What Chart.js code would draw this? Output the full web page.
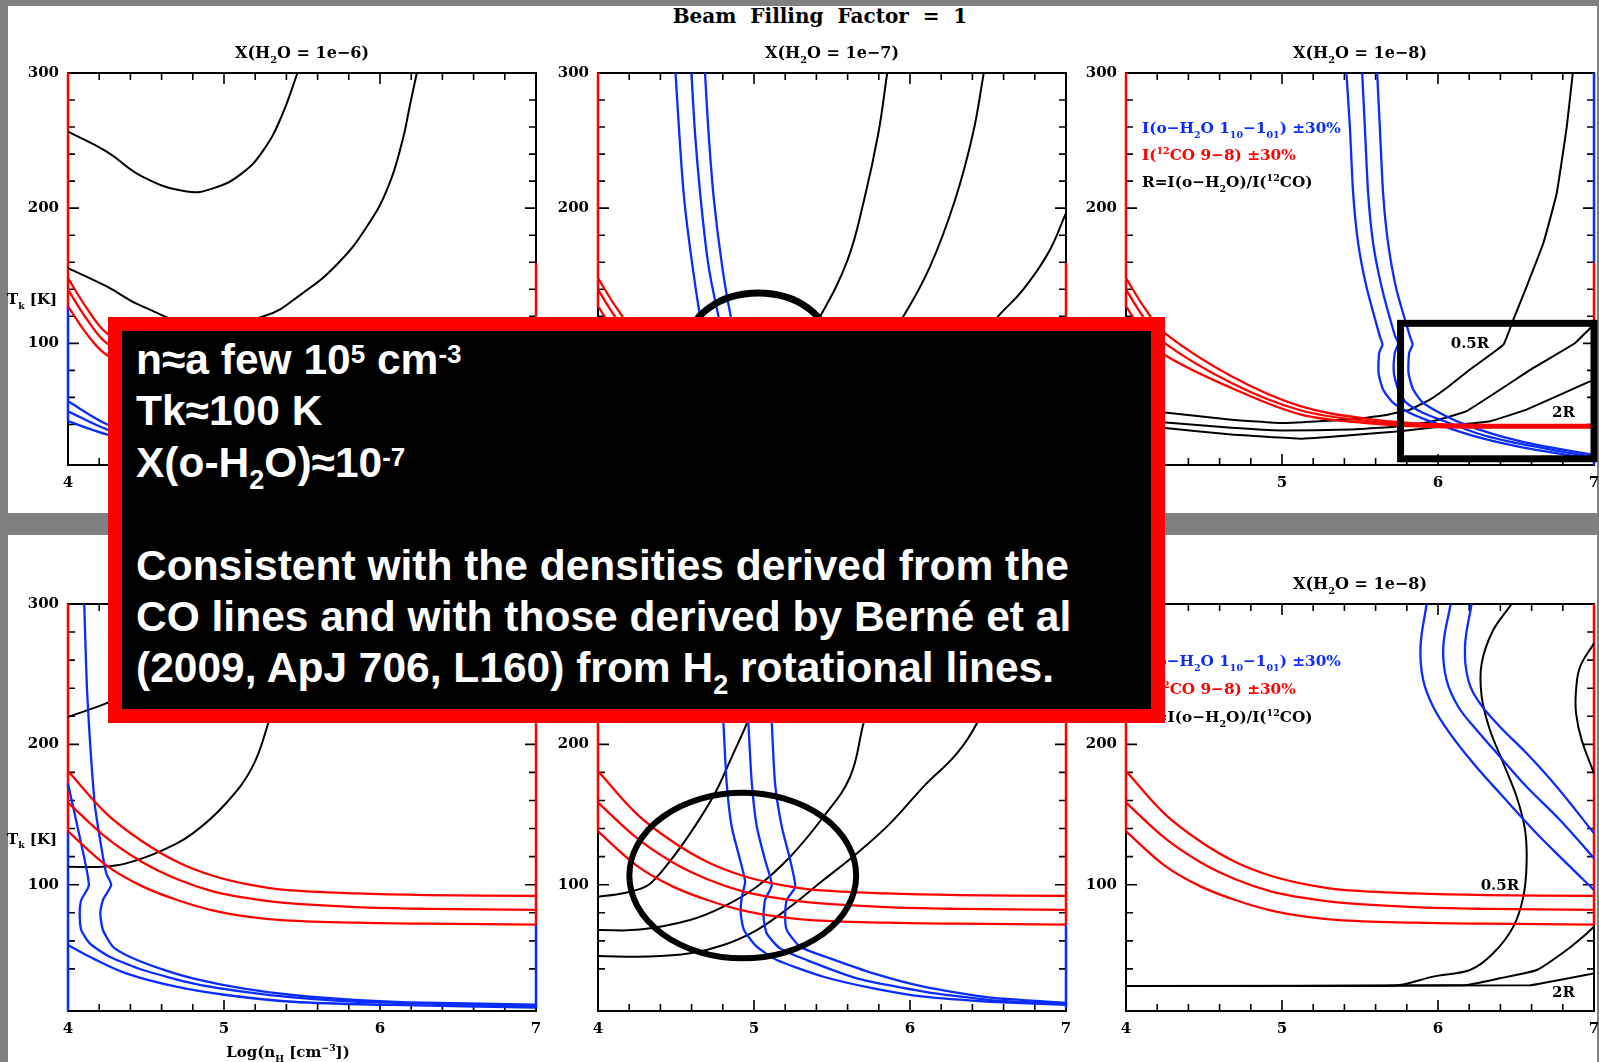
<!DOCTYPE html>
<html>
<head>
<meta charset="utf-8">
<script src="https://cdn.jsdelivr.net/npm/chart.js@4.4.1/dist/chart.umd.min.js"></script>
<style>
  html, body { margin: 0; padding: 0; }
  body { width: 1599px; height: 1062px; background: #808080; position: relative; overflow: hidden; }
  .sheet { position: absolute; background: #fff; }
  #charts canvas { position: absolute; }
  #suptitle { position: absolute; left: 570px; width: 500px; top: 4px; text-align: center;
              font: bold 20px "DejaVu Serif"; line-height: 24px; color: #000; white-space: pre; }
  #note { position: absolute; left: 108px; top: 317px; width: 1057px; height: 406px; box-sizing: border-box;
          border: 14px solid #ff0000; background: #000; color: #fff; white-space: nowrap; overflow: hidden;
          font-family: "Liberation Sans", Arial, sans-serif; font-weight: bold; font-size: 42.5px;
          line-height: 51.4px; padding: 3px 0 0 14px; }
  #note sup { font-size: 26px; line-height: 0; vertical-align: 11px; }
  #note sub { font-size: 27px; line-height: 0; vertical-align: -12px; }
</style>
</head>
<body>
<div class="sheet" style="left:8px;top:6px;width:1589px;height:507px"></div>
<div class="sheet" style="left:8px;top:535px;width:1589px;height:527px"></div>
<div id="suptitle">Beam  Filling  Factor  =  1</div>
<div id="charts"></div>
<div id="note">n≈a few 10<sup>5</sup> cm<sup>-3</sup><br>Tk≈100 K<br>X(o-H<sub>2</sub>O)≈10<sup>-7</sup><br><br>Consistent with the densities derived from the<br>CO lines and with those derived by Berné et al<br>(2009, ApJ 706, L160) from H<sub>2</sub> rotational lines.</div>
<script>
// ---- axes: log10 n_H (cm^-3) and kinetic temperature (K) ----
const densityRange = [4, 7];
const temperatureRange = [10, 300];
const densityTicks = [4, 5, 6, 7];
const temperatureTicks = [100, 200, 300];

// ---- 12CO 9-8 intensity contours (nominal, +/-30%), upper row ----
const coUpperHi  = [[4,148.3],[4.12,126],[4.246,107.7],[4.676,75.6],[5.117,53.5],[5.558,44],[6.0,40.2],[7,39.7]];
const coUpperMid = [[4,139.7],[4.12,118],[4.246,100.3],[4.676,70.7],[5.117,50.5],[5.558,42.3],[6.0,39.0],[7,38.7]];
const coUpperLo  = [[4,127.3],[4.12,107],[4.246,91.6],[4.676,67],[5.117,47.5],[5.558,40.8],[6.0,38],[7,37.7]];
// ---- 12CO 9-8 intensity contours, lower row ----
const coLowerHi  = [[4,181],[4.248,150.5],[4.477,130.8],[4.705,116],[4.933,106.2],[5.162,100],[5.39,96.3],[5.847,93.8],[6.304,92.6],[7,92]];
const coLowerMid = [[4,158.5],[4.248,133.3],[4.477,116],[4.705,103.7],[4.933,95.1],[5.162,90.2],[5.39,87],[5.847,84],[6.304,82.8],[7,82]];
const coLowerLo  = [[4,138],[4.248,113.6],[4.477,98.8],[4.705,88.9],[4.933,81.5],[5.162,77.1],[5.39,74.6],[5.847,72.9],[6.304,72.2],[7,71.5]];

// ---- upper row, X = 1e-6 ----
const h2oA1 = [[4,57.1],[4.253,40],[4.5,33]];
const h2oA2 = [[4,49.7],[4.253,36.2],[4.5,30]];
const h2oA3 = [[4,42.4],[4.253,32.5],[4.5,27]];
const ratioA1 = [[4,256.6],[4.248,241.9],[4.477,223.4],[4.762,212.3],[4.934,214.8],[5.117,225.9],[5.254,243.1],[5.368,267.7],[5.471,300]];
const ratioA2 = [[4,155.7],[4.248,142.1],[4.477,127.3],[4.85,113],[5.254,120],[5.505,137.2],[5.733,159.4],[5.916,186.4],[6.053,216],[6.145,250.5],[6.19,275.1],[6.236,300]];

// ---- upper row, X = 1e-7 ----
const h2oB1 = [[4.497,300],[4.521,255.4],[4.553,206.2],[4.606,156.9],[4.654,120],[4.68,105]];
const h2oB2 = [[4.599,300],[4.622,255.4],[4.659,206.2],[4.709,156.9],[4.772,120],[4.80,105]];
const h2oB3 = [[4.686,300],[4.709,255.4],[4.743,206.2],[4.796,156.9],[4.851,120],[4.89,105]];
const ratioB1 = [[5.854,300],[5.797,255.4],[5.706,206.2],[5.6,161.8],[5.424,120],[5.3,100]];
const ratioB2 = [[6.473,300],[6.404,255.4],[6.289,206.2],[6.129,156.9],[5.958,120],[5.83,100]];
const ratioB3 = [[7,196.3],[6.886,166.8],[6.725,139.7],[6.565,120],[6.42,100]];
const ellipseB = [5.028, 99.5, 0.449, 37.7];   // centre n, centre T, half-width, half-height

// ---- upper row, X = 1e-8 ----
const h2oC1 = [[5.413,300],[5.435,260.3],[5.456,211.1],[5.488,174.1],[5.541,142.1],[5.627,105.2],[5.644,99],[5.623,92.9],[5.619,78.1],[5.648,65.8],[5.713,55.9],[5.82,48.5],[5.969,41.5],[6.183,33],[6.397,26.5],[6.611,21.5],[6.825,17.5],[7,14.5]];
const h2oC2 = [[5.514,300],[5.531,260.3],[5.552,211.1],[5.584,174.1],[5.638,142.1],[5.723,106],[5.745,100],[5.723,92.9],[5.717,78.1],[5.745,65.8],[5.798,55.9],[5.905,48.5],[6.05,42],[6.25,33.5],[6.45,27.5],[6.65,23],[6.85,18.8],[7,16]];
const h2oC3 = [[5.61,300],[5.627,260.3],[5.648,211.1],[5.68,174.1],[5.734,139.7],[5.82,105.2],[5.837,99],[5.815,92.9],[5.811,78.1],[5.841,65.8],[5.905,55.9],[6.012,48.5],[6.15,41],[6.35,33],[6.55,27],[6.75,22.5],[7,17.5]];
const ratioC1 = [[4,51],[4.235,49],[4.676,43.5],[5.0,41],[5.435,43.6],[5.648,46.6],[5.82,51],[5.948,58.4],[6.055,67],[6.205,80.6],[6.419,99],[6.483,117.5],[6.568,142],[6.675,174],[6.761,211],[6.825,260],[6.864,300]];
const ratioC2 = [[4,44],[4.235,41.6],[4.676,37.5],[5.0,35.5],[5.435,36.2],[5.755,38.7],[5.969,42.4],[6.183,49.8],[6.611,81.8],[6.879,100.3],[7,114]];
const ratioC3 = [[4,40],[4.235,37.5],[4.676,32.5],[5.117,29.5],[5.435,32],[5.755,35],[6.034,38.7],[6.333,42.4],[6.568,51],[7,73.2]];
const boxC = [5.76, 14.6, 7.0, 114.8];         // n0, T0, n1, T1
const labelPosC = [[6.205, 100.3], [6.804, 49.8]];

// ---- lower row, left ----
const h2oD1 = [[4.104,300],[4.123,236.7],[4.171,158],[4.213,127.1],[4.245,108.1],[4.277,99.8],[4.224,89.1],[4.207,79.6],[4.224,67.7],[4.288,55.8],[4.395,48.7],[4.586,40.4],[4.8,33.3],[5.119,26.1],[5.439,21.4],[5.865,17.8],[6.291,15.9],[7,14.6]];
const h2oD2 = [[4,172],[4.075,134.2],[4.134,99.8],[4.085,89.1],[4.075,79.6],[4.085,67.7],[4.139,58.2],[4.267,48.7],[4.48,39.2],[4.8,29.7],[5.119,23.8],[5.439,19.7],[5.865,16.6],[7,13.4]];
const h2oD3 = [[4,57],[4.16,47.5],[4.373,36.8],[4.693,27.3],[5.013,21.4],[5.439,16.6],[6.078,14.3],[7,12.4]];
const ratioD1 = [[4,219.5],[4.24,229],[4.5,242]];
const ratioD2 = [[4,112.8],[4.224,112.8],[4.373,115.2],[4.586,123.5],[4.8,136.6],[5.013,158],[5.183,184.1],[5.29,217.3],[5.38,250]];

// ---- lower row, middle ----
const h2oE1 = [[4.79,245],[4.804,215],[4.825,172.2],[4.857,141.3],[4.911,117.6],[4.943,102.1],[4.922,91.4],[4.915,79.6],[4.936,67.7],[5.018,55.8],[5.146,46.3],[5.445,34.4],[5.766,26.1],[6.087,20.2],[6.514,16.6],[7,14.3]];
const h2oE2 = [[4.95,245],[4.964,215],[4.986,172.2],[5.018,141.3],[5.071,117.6],[5.114,99.8],[5.071,89.1],[5.061,77.2],[5.082,65.3],[5.167,54.6],[5.338,46.3],[5.659,33.3],[6.087,23.8],[6.514,17.8],[7,15]];
const h2oE3 = [[5.10,245],[5.114,215],[5.135,172.2],[5.178,141.3],[5.232,117.6],[5.264,98.5],[5.21,89.1],[5.2,77.2],[5.21,67.7],[5.296,55.8],[5.488,47.5],[5.766,36.8],[6.087,27.3],[6.514,19.5],[7,15.9]];
const ratioE1 = [[4,91.4],[4.162,93.9],[4.323,99.8],[4.483,119.9],[4.633,143.7],[4.761,167.5],[4.868,193.6],[4.954,215],[5.05,245]];
const ratioE2 = [[4,67.7],[4.269,68],[4.59,74.8],[4.804,84.3],[5.018,98.5],[5.232,119.9],[5.445,148.4],[5.616,176.9],[5.702,215],[5.78,245]];
const ratioE3 = [[4,49.2],[4.325,48.8],[4.59,51.1],[4.804,57],[5.018,67.7],[5.232,84.3],[5.445,103.3],[5.659,122.3],[5.873,143.7],[6.087,169.9],[6.301,193.6],[6.429,215],[6.52,240]];
const ellipseE = [4.928, 106.5, 0.727, 59.0];

// ---- lower row, X = 1e-8 ----
const h2oF1 = [[5.927,300],[5.888,269.6],[5.905,245.8],[5.969,226.8],[6.076,207.8],[6.226,186.5],[6.397,165.1],[6.611,139],[6.825,115.2],[7,96.2]];
const h2oF2 = [[6.081,300],[6.034,269.6],[6.055,245.8],[6.13,226.8],[6.248,210.2],[6.397,191.2],[6.568,169.8],[6.782,146.1],[7,118.8]];
const h2oF3 = [[6.215,300],[6.173,269.6],[6.194,245.8],[6.269,229.2],[6.397,212.6],[6.568,193.6],[6.761,169.8],[7,136.6]];
const ratioF1 = [[4,27.8],[5.541,27.8],[5.755,28.5],[5.969,34.5],[6.205,39.2],[6.354,51.1],[6.483,70.1],[6.547,91.5],[6.568,115.2],[6.558,139],[6.504,162.7],[6.419,186.5],[6.333,210.2],[6.28,234],[6.28,257.7],[6.354,281.5],[6.472,300]];
const ratioF2 = [[4,27.8],[6.162,28.3],[6.397,33.3],[6.633,39.2],[6.825,53.5],[6.954,65.3],[7,70.1]];
const ratioF2b = [[7,272],[6.911,255.3],[6.885,238.7],[6.885,222.1],[6.921,203.1],[7,179.3]];
const ratioF3 = [[4,27.8],[6.59,28.3],[7,36.8]];
const labelPosF = [[6.397, 99.8], [6.804, 23.7]];

// ---- contour pieces running along the plot border ----
const edgeUpperLeftRed  = [[4,300],[4,127.3]];
const edgeUpperRightRed = [[7,159.4],[7,38.7]];
const edgeALeftBlue     = [[4,127.3],[4,42.4]];
const edgeCRightBlue    = [[7,300],[7,159.4]];
const edgeCRightBlueLow = [[7,18],[7,10]];
const edgeLowerLeftRed  = [[4,300],[4,138]];
const edgeDLeftBlue     = [[4,138],[4,10]];
const edgeLowerRightRed = [[7,300],[7,71.5]];
const edgeLowerRightBlue= [[7,71.5],[7,12]];

// ---- text ----
const legendY = [259.5, 239.5, 219.5];
const legendX = 4.103;
const ratioLabels = ['0.5R', '2R'];

const BLUE = '#0a2cff', RED = '#ff0000', BLACK = '#000000';
const SERIF = '"DejaVu Serif", "Liberation Serif", serif';

// page layout of the six plot frames
const plotLefts = [68, 598, 1126];
const plotTops = [73, 604];
const plotHeights = [392, 407];
const PW = 468, ML = 70, MR = 70, MT = 45, MB = 60;

const titleOf = x => [['X(H',0],['2',-1],['O = 1e\u2212' + x + ')',0]];
const legendParts = [
  { color: BLUE,  parts: [['I(o\u2212H',0],['2',-1],['O 1',0],['10',-1],['\u22121',0],['01',-1],[') \u00b130%',0]] },
  { color: RED,   parts: [['I(',0],['12',1],['CO 9\u22128) \u00b130%',0]] },
  { color: BLACK, parts: [['R=I(o\u2212H',0],['2',-1],['O)/I(',0],['12',1],['CO)',0]] }
];

// [points, colour, width, tension]
const panels = [
  { col:0, row:0, title:titleOf(6), yTitle:true, lines:[
      [coUpperHi,RED,2.3,0.35],[coUpperMid,RED,2.3,0.35],[coUpperLo,RED,2.3,0.35],
      [h2oA1,BLUE,2.3,0.3],[h2oA2,BLUE,2.3,0.3],[h2oA3,BLUE,2.3,0.3],
      [ratioA1,BLACK,2,0.45],[ratioA2,BLACK,2,0.45],
      [edgeUpperLeftRed,RED,2.5,0],[edgeALeftBlue,BLUE,2.5,0],[edgeUpperRightRed,RED,2.5,0]] },
  { col:1, row:0, title:titleOf(7), ellipse:ellipseB, ellipseWidth:7, lines:[
      [coUpperHi,RED,2.3,0.35],[coUpperMid,RED,2.3,0.35],[coUpperLo,RED,2.3,0.35],
      [h2oB1,BLUE,2.3,0.35],[h2oB2,BLUE,2.3,0.35],[h2oB3,BLUE,2.3,0.35],
      [ratioB1,BLACK,2,0.4],[ratioB2,BLACK,2,0.4],[ratioB3,BLACK,2,0.4],
      [edgeUpperLeftRed,RED,2.5,0],[edgeUpperRightRed,RED,2.5,0]] },
  { col:2, row:0, title:titleOf(8), legend:true, box:boxC, labels:labelPosC, lines:[
      [coUpperHi,RED,2.3,0.35],[coUpperMid,RED,2.3,0.35],[coUpperLo,RED,2.3,0.35],
      [h2oC1,BLUE,2.3,0.2],[h2oC2,BLUE,2.3,0.2],[h2oC3,BLUE,2.3,0.2],
      [ratioC1,BLACK,2,0.1],[ratioC2,BLACK,2,0.1],[ratioC3,BLACK,2,0.1],
      [edgeUpperLeftRed,RED,2.5,0],[edgeCRightBlue,BLUE,2.5,0],[edgeUpperRightRed,RED,2.5,0],[edgeCRightBlueLow,BLUE,2.5,0]] },
  { col:0, row:1, title:null, yTitle:true, xTitle:true, lines:[
      [coLowerHi,RED,2.3,0.35],[coLowerMid,RED,2.3,0.35],[coLowerLo,RED,2.3,0.35],
      [h2oD1,BLUE,2.3,0.2],[h2oD2,BLUE,2.3,0.2],[h2oD3,BLUE,2.3,0.35],
      [ratioD1,BLACK,2,0.3],[ratioD2,BLACK,2,0.4],
      [edgeLowerLeftRed,RED,2.5,0],[edgeDLeftBlue,BLUE,2.5,0],[edgeLowerRightRed,RED,2.5,0],[edgeLowerRightBlue,BLUE,2.5,0]] },
  { col:1, row:1, title:null, ellipse:ellipseE, ellipseWidth:6, lines:[
      [coLowerHi,RED,2.3,0.35],[coLowerMid,RED,2.3,0.35],[coLowerLo,RED,2.3,0.35],
      [h2oE1,BLUE,2.3,0.2],[h2oE2,BLUE,2.3,0.2],[h2oE3,BLUE,2.3,0.2],
      [ratioE1,BLACK,2,0.3],[ratioE2,BLACK,2,0.4],[ratioE3,BLACK,2,0.4],
      [edgeLowerLeftRed,RED,2.5,0],[edgeLowerRightRed,RED,2.5,0],[edgeLowerRightBlue,BLUE,2.5,0]] },
  { col:2, row:1, title:titleOf(8), legend:true, labels:labelPosF, lines:[
      [coLowerHi,RED,2.3,0.35],[coLowerMid,RED,2.3,0.35],[coLowerLo,RED,2.3,0.35],
      [h2oF1,BLUE,2.3,0.4],[h2oF2,BLUE,2.3,0.4],[h2oF3,BLUE,2.3,0.4],
      [ratioF1,BLACK,2,0.3],[ratioF2,BLACK,2,0.15],[ratioF2b,BLACK,2,0.4],[ratioF3,BLACK,2,0.05],
      [edgeLowerLeftRed,RED,2.5,0],[edgeLowerRightRed,RED,2.5,0]] }
];

// rich text with sub/superscripts; y is the middle of the capitals
function richWidth(ctx, parts, size) {
  let w = 0;
  for (const [t, m] of parts) {
    ctx.font = 'bold ' + (m ? size * 0.62 : size) + 'px ' + SERIF;
    w += ctx.measureText(t).width;
  }
  return w;
}
function drawRich(ctx, parts, x, y, size, color, align) {
  let cx = align === 'center' ? x - richWidth(ctx, parts, size) / 2 : x;
  const base = y + size * 0.36;
  ctx.fillStyle = color;
  ctx.textAlign = 'left';
  ctx.textBaseline = 'alphabetic';
  for (const [t, m] of parts) {
    const s = m ? size * 0.62 : size;
    ctx.font = 'bold ' + s + 'px ' + SERIF;
    const dy = m < 0 ? size * 0.3 : (m > 0 ? -size * 0.42 : 0);
    ctx.fillText(t, cx, base + dy);
    cx += ctx.measureText(t).width;
  }
}

const panelByCanvas = new WeakMap();

const panelDecor = {
  id: 'panelDecor',
  beforeDatasetsDraw(chart) {
    const p = panelByCanvas.get(chart.canvas);
    if (!p) return;
    const { ctx, chartArea: a, scales: { x, y } } = chart;
    ctx.save();
    ctx.strokeStyle = BLACK;
    ctx.lineWidth = 2;
    ctx.strokeRect(a.left, a.top, a.right - a.left, a.bottom - a.top);
    ctx.lineWidth = 1.6;
    ctx.beginPath();
    for (const t of x.ticks) {
      if (t.value <= x.min + 1e-6 || t.value >= x.max - 1e-6) continue;
      const px = x.getPixelForValue(t.value), len = t.label ? 11 : 7;
      ctx.moveTo(px, a.bottom); ctx.lineTo(px, a.bottom - len);
      ctx.moveTo(px, a.top); ctx.lineTo(px, a.top + len);
    }
    for (const t of y.ticks) {
      if (t.value <= y.min + 1e-6 || t.value >= y.max - 1e-6) continue;
      const py = y.getPixelForValue(t.value), len = t.label ? 11 : 7;
      ctx.moveTo(a.left, py); ctx.lineTo(a.left + len, py);
      ctx.moveTo(a.right, py); ctx.lineTo(a.right - len, py);
    }
    ctx.stroke();
    ctx.restore();
  },
  afterDatasetsDraw(chart) {
    const p = panelByCanvas.get(chart.canvas);
    if (!p) return;
    const { ctx, chartArea: a, scales: { x, y } } = chart;
    ctx.save();
    ctx.strokeStyle = BLACK;
    if (p.ellipse) {
      const [cx, cy, rx, ry] = p.ellipse;
      const px = x.getPixelForValue(cx), py = y.getPixelForValue(cy);
      const rpx = Math.abs(x.getPixelForValue(cx + rx) - px);
      const rpy = Math.abs(y.getPixelForValue(cy + ry) - py);
      ctx.lineWidth = p.ellipseWidth;
      ctx.beginPath();
      ctx.ellipse(px, py, rpx, rpy, 0, 0, Math.PI * 2);
      ctx.stroke();
    }
    if (p.box) {
      const [x0, y0, x1, y1] = p.box;
      const l = x.getPixelForValue(x0), r = x.getPixelForValue(x1);
      const t = y.getPixelForValue(y1), b = y.getPixelForValue(y0);
      ctx.lineWidth = 7;
      ctx.strokeRect(l, t, r - l, b - t);
    }
    if (p.labels) {
      p.labels.forEach((pos, i) => {
        drawRich(ctx, [[ratioLabels[i], 0]], x.getPixelForValue(pos[0]), y.getPixelForValue(pos[1]), 15, BLACK, 'center');
      });
    }
    if (p.legend) {
      legendParts.forEach((row, i) => {
        drawRich(ctx, row.parts, x.getPixelForValue(legendX), y.getPixelForValue(legendY[i]), 15.3, row.color, 'left');
      });
    }
    if (p.title) {
      drawRich(ctx, p.title, (a.left + a.right) / 2, a.top - 21, 16, BLACK, 'center');
    }
    if (p.yTitle) {
      drawRich(ctx, [['T',0],['k',-1],[' [K]',0]], a.left - 36, y.getPixelForValue(133), 15, BLACK, 'center');
    }
    if (p.xTitle) {
      drawRich(ctx, [['Log(n',0],['H',-1],[' [cm',0],['\u22123',1],['])',0]], (a.left + a.right) / 2 - 14, a.bottom + 41, 15, BLACK, 'center');
    }
    ctx.restore();
  }
};

const tickFont = { family: SERIF, size: 15, weight: 'bold' };
const holder = document.getElementById('charts');

panels.forEach(p => {
  const L = plotLefts[p.col], T = plotTops[p.row], H = plotHeights[p.row];
  const cv = document.createElement('canvas');
  cv.width = ML + PW + MR;
  cv.height = MT + H + MB;
  cv.style.left = (L - ML) + 'px';
  cv.style.top = (T - MT) + 'px';
  holder.appendChild(cv);
  panelByCanvas.set(cv, p);

  const datasets = p.lines.map(([pts, color, width, tension]) => ({
    data: pts.map(([n, t]) => ({ x: n, y: t })),
    borderColor: color,
    borderWidth: width,
    tension: tension,
    showLine: true,
    fill: false,
    pointRadius: 0,
    clip: 6
  }));

  new Chart(cv, {
    type: 'scatter',
    data: { datasets },
    options: {
      responsive: false,
      animation: false,
      events: [],
      layout: { padding: { top: MT, right: MR, left: 0, bottom: 0 } },
      plugins: { legend: { display: false }, tooltip: { enabled: false }, title: { display: false } },
      scales: {
        x: {
          type: 'linear', min: densityRange[0], max: densityRange[1],
          border: { display: false },
          grid: { display: false, drawTicks: false },
          ticks: {
            stepSize: 0.2, maxTicksLimit: 100, autoSkip: false, maxRotation: 0, minRotation: 0,
            padding: 9, color: BLACK, font: tickFont,
            callback: v => densityTicks.some(d => Math.abs(d - v) < 1e-6) ? String(Math.round(v)) : ''
          },
          afterFit: s => { s.height = MB; }
        },
        y: {
          type: 'linear', min: temperatureRange[0], max: temperatureRange[1],
          border: { display: false },
          grid: { display: false, drawTicks: false },
          ticks: {
            stepSize: 20, maxTicksLimit: 100, autoSkip: false,
            padding: 9, color: BLACK, font: tickFont,
            callback: v => temperatureTicks.includes(v) ? String(v) : ''
          },
          afterFit: s => { s.width = ML; }
        }
      }
    },
    plugins: [panelDecor]
  });
});
</script>
</body>
</html>
